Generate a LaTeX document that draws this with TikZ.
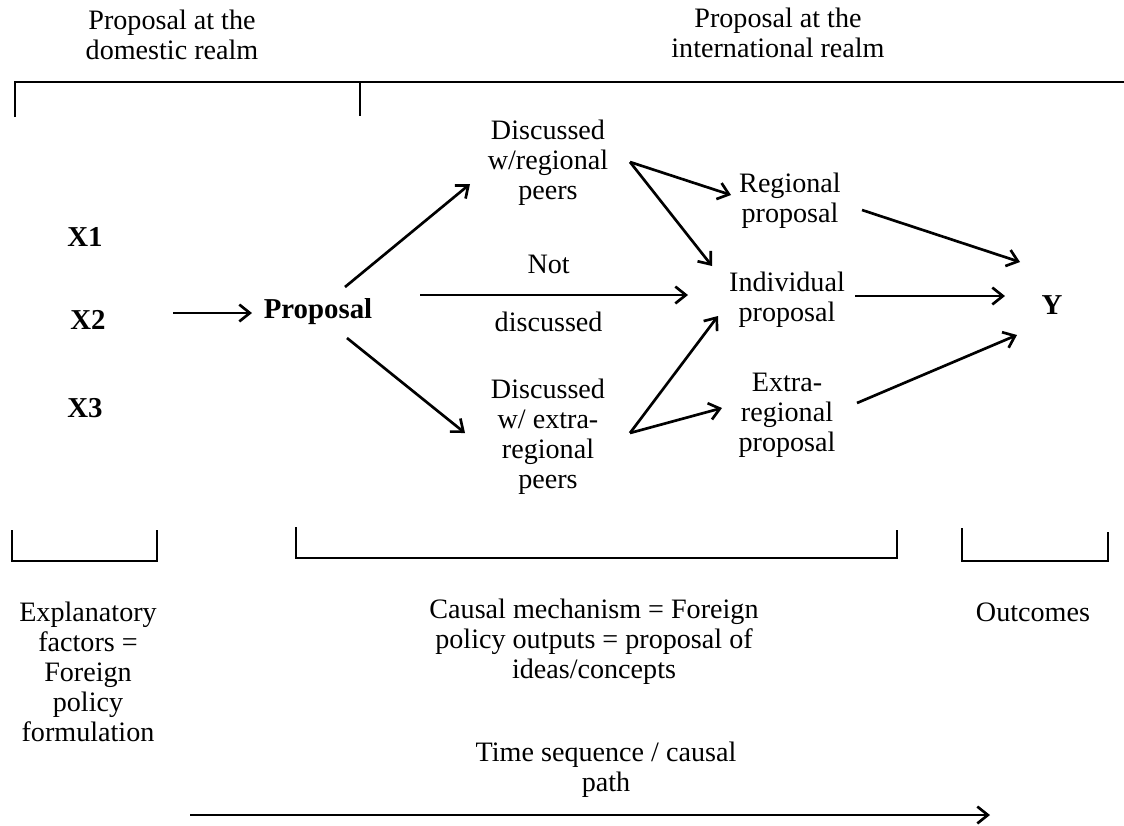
\documentclass[tikz,border=0pt]{standalone}
\usepackage{fontspec}
\setmainfont{Liberation Serif}
\usepackage{tikz}
\usetikzlibrary{arrows.meta}

\begin{document}
\begin{tikzpicture}[x=0.025cm, y=-0.025cm,
    lbl/.style={align=center, inner sep=0pt, font=\fontsize{20}{21.3}\selectfont},
    bld/.style={lbl, font=\fontsize{20.5}{21.3}\selectfont\bfseries},
    arr/.style={-{Straight Barb[length=7.5pt,width=12pt]}, line width=1.9pt},
    brk/.style={line width=2pt}]
    \useasboundingbox (0,0) rectangle (1124,825);

    % Realms on top
    \node[lbl] (dom) at (172,35) {Proposal at the\\domestic realm};
    \node[lbl] (intl) at (778,33) {Proposal at the\\international realm};
    \draw[brk] (15,117) -- (15,82) -- (1124,82);
    \draw[brk] (360,82) -- (360,116);

    % Factors and proposal
    \node[bld] (x1) at (85,237) {X1};
    \node[bld] (x2) at (88,320) {X2};
    \node[bld] (x3) at (85,408) {X3};
    \node[bld] (prop) at (318,312) {Proposal};
    \draw[arr] ([shift={(85,-7)}]x2.center) -- ([shift={(-66,1)}]prop.center);

    % Discussion paths
    \node[lbl] (dreg) at (548,163) {Discussed\\w/regional\\peers};
    \node[lbl] (dext) at (548,437) {Discussed\\w/ extra-\\regional\\peers};
    \node[lbl] (regp) at (790,201) {Regional\\proposal};
    \node[lbl] (indp) at (787,300) {Individual\\proposal};
    \node[lbl] (extp) at (787,415) {Extra-\\regional\\proposal};
    \node[bld] (y) at (1052,305) {Y};

    \draw[arr] ([shift={(27,-25)}]prop.center) -- ([shift={(-78,21)}]dreg.center);
    \draw[arr] ([shift={(102,-17)}]prop.center) --
        node[lbl, pos=0.48, above=14pt] (notd) {Not}
        node[lbl, pos=0.48, below=11pt] (disc) {discussed}
        ([shift={(-99,-5)}]indp.center);
    \draw[arr] ([shift={(29,26)}]prop.center) -- ([shift={(-83,-4)}]dext.center);

    \draw[arr] ([shift={(82,-1)}]dreg.center) -- ([shift={(-59,-6)}]regp.center);
    \draw[arr] ([shift={(82,-1)}]dreg.center) -- ([shift={(-75,-34)}]indp.center);
    \draw[arr] ([shift={(82,-4)}]dext.center) -- ([shift={(-69,16)}]indp.center);
    \draw[arr] ([shift={(82,-4)}]dext.center) -- ([shift={(-65,-7)}]extp.center);

    \draw[arr] ([shift={(72,9)}]regp.center) -- ([shift={(-32,-43)}]y.center);
    \draw[arr] ([shift={(68,-4)}]indp.center) -- ([shift={(-47,-9)}]y.center);
    \draw[arr] ([shift={(70,-12)}]extp.center) -- ([shift={(-35,30)}]y.center);

    % Brackets below
    \draw[brk] (12,530) -- (12,561) -- (157,561) -- (157,530);
    \draw[brk] (296,527) -- (296,558) -- (897,558) -- (897,530);
    \draw[brk] (962,528) -- (962,561) -- (1108,561) -- (1108,532);

    \node[lbl] (expl) at (88,672) {Explanatory\\factors =\\Foreign\\policy\\formulation};
    \node[lbl] (mech) at (594,642) {Causal mechanism = Foreign\\policy outputs = proposal of\\ideas/concepts};
    \node[lbl] (outc) at (1033,612) {Outcomes};

    % Time axis
    \node[lbl] (time) at (606,770) {Time sequence / causal\\path};
    \coordinate (tstart) at (190,815);
    \coordinate (tend) at (990,815);
    \draw[arr] (tstart) -- (tend);
\end{tikzpicture}
\end{document}
